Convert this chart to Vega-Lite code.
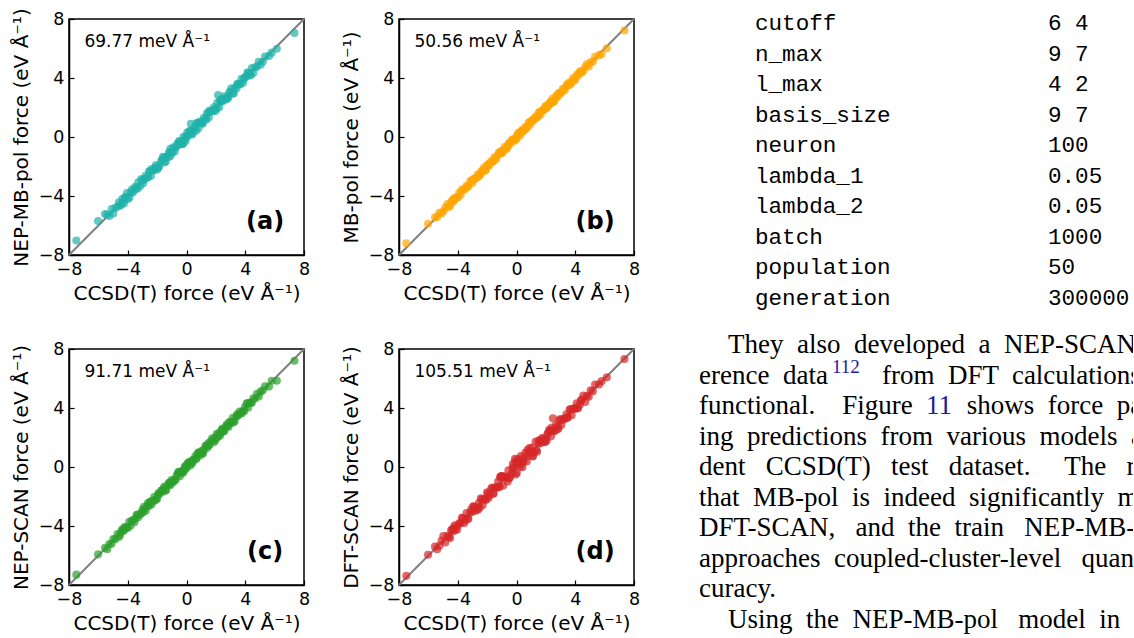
{
  "$schema": "https://vega.github.io/schema/vega-lite/v6.json",
  "padding": {"left": 10, "top": 7, "right": 0, "bottom": 0},
  "background": "white",
  "config": {
    "view": {"stroke": "black", "strokeWidth": 1.5},
    "axis": {
      "grid": false,
      "domainColor": "black",
      "domainWidth": 1.5,
      "tickColor": "black",
      "tickWidth": 1.2,
      "tickSize": -5,
      "labelPadding": 10,
      "labelFont": "DejaVu Sans",
      "labelFontSize": 17.5,
      "labelColor": "black",
      "labelFlush": false,
      "labelOverlap": false,
      "titleFont": "DejaVu Sans",
      "titleFontSize": 20,
      "titleFontWeight": "normal",
      "titleColor": "black"
    },
    "axisX": {"titlePadding": 6},
    "axisY": {"titlePadding": 7}
  },
  "datasets": {
    "forces": [
      {"ref": -7.50, "nep_mbpol": -7.02, "mbpol": -7.20, "nep_scan": -7.30, "dft_scan": -7.38},
      {"ref": -6.02, "nep_mbpol": -5.70, "mbpol": -5.88, "nep_scan": -5.92, "dft_scan": -5.95},
      {"ref": -5.55, "nep_mbpol": -5.22, "mbpol": -5.45, "nep_scan": -5.48, "dft_scan": -5.40},
      {"ref": -5.40, "nep_mbpol": -5.25, "mbpol": -5.42, "nep_scan": -5.58, "dft_scan": -5.58},
      {"ref": -5.25, "nep_mbpol": -5.35, "mbpol": -5.14, "nep_scan": -5.23, "dft_scan": -5.34},
      {"ref": -5.10, "nep_mbpol": -4.88, "mbpol": -5.19, "nep_scan": -5.20, "dft_scan": -4.98},
      {"ref": -4.98, "nep_mbpol": -5.18, "mbpol": -5.03, "nep_scan": -4.88, "dft_scan": -4.68},
      {"ref": -4.85, "nep_mbpol": -4.80, "mbpol": -4.79, "nep_scan": -4.89, "dft_scan": -5.12},
      {"ref": -4.70, "nep_mbpol": -4.73, "mbpol": -4.55, "nep_scan": -4.54, "dft_scan": -4.67},
      {"ref": -4.60, "nep_mbpol": -4.42, "mbpol": -4.74, "nep_scan": -4.74, "dft_scan": -4.75},
      {"ref": -4.52, "nep_mbpol": -4.64, "mbpol": -4.66, "nep_scan": -4.60, "dft_scan": -4.82},
      {"ref": -4.45, "nep_mbpol": -4.60, "mbpol": -4.43, "nep_scan": -4.39, "dft_scan": -4.30},
      {"ref": -4.38, "nep_mbpol": -4.20, "mbpol": -4.29, "nep_scan": -4.22, "dft_scan": -4.23},
      {"ref": -4.30, "nep_mbpol": -4.38, "mbpol": -4.38, "nep_scan": -4.30, "dft_scan": -4.36},
      {"ref": -4.26, "nep_mbpol": -4.50, "mbpol": -4.20, "nep_scan": -4.30, "dft_scan": -4.10},
      {"ref": -4.20, "nep_mbpol": -4.10, "mbpol": -4.12, "nep_scan": -4.08, "dft_scan": -3.96},
      {"ref": -4.15, "nep_mbpol": -4.07, "mbpol": -4.18, "nep_scan": -4.11, "dft_scan": -4.24},
      {"ref": -4.05, "nep_mbpol": -3.80, "mbpol": -4.08, "nep_scan": -4.13, "dft_scan": -4.26},
      {"ref": -3.98, "nep_mbpol": -4.20, "mbpol": -4.09, "nep_scan": -4.10, "dft_scan": -3.95},
      {"ref": -3.90, "nep_mbpol": -4.12, "mbpol": -3.78, "nep_scan": -3.72, "dft_scan": -3.81},
      {"ref": -3.80, "nep_mbpol": -3.77, "mbpol": -3.91, "nep_scan": -3.96, "dft_scan": -3.80},
      {"ref": -3.72, "nep_mbpol": -3.57, "mbpol": -3.58, "nep_scan": -3.64, "dft_scan": -3.45},
      {"ref": -3.65, "nep_mbpol": -3.77, "mbpol": -3.60, "nep_scan": -3.61, "dft_scan": -3.47},
      {"ref": -3.55, "nep_mbpol": -3.60, "mbpol": -3.55, "nep_scan": -3.75, "dft_scan": -3.79},
      {"ref": -3.50, "nep_mbpol": -3.38, "mbpol": -3.50, "nep_scan": -3.52, "dft_scan": -3.62},
      {"ref": -3.40, "nep_mbpol": -3.45, "mbpol": -3.31, "nep_scan": -3.26, "dft_scan": -3.13},
      {"ref": -3.33, "nep_mbpol": -3.51, "mbpol": -3.39, "nep_scan": -3.23, "dft_scan": -3.48},
      {"ref": -3.28, "nep_mbpol": -3.08, "mbpol": -3.34, "nep_scan": -3.40, "dft_scan": -3.52},
      {"ref": -3.15, "nep_mbpol": -3.33, "mbpol": -3.01, "nep_scan": -3.21, "dft_scan": -3.09},
      {"ref": -3.08, "nep_mbpol": -2.86, "mbpol": -2.96, "nep_scan": -3.14, "dft_scan": -2.87},
      {"ref": -3.00, "nep_mbpol": -2.92, "mbpol": -3.12, "nep_scan": -2.92, "dft_scan": -3.03},
      {"ref": -2.95, "nep_mbpol": -3.13, "mbpol": -2.87, "nep_scan": -3.07, "dft_scan": -2.67},
      {"ref": -2.90, "nep_mbpol": -2.90, "mbpol": -2.87, "nep_scan": -2.70, "dft_scan": -2.69},
      {"ref": -2.85, "nep_mbpol": -2.85, "mbpol": -2.82, "nep_scan": -2.83, "dft_scan": -2.76},
      {"ref": -2.78, "nep_mbpol": -2.63, "mbpol": -2.80, "nep_scan": -2.96, "dft_scan": -2.96},
      {"ref": -2.65, "nep_mbpol": -2.75, "mbpol": -2.54, "nep_scan": -2.63, "dft_scan": -2.74},
      {"ref": -2.62, "nep_mbpol": -2.72, "mbpol": -2.71, "nep_scan": -2.44, "dft_scan": -2.89},
      {"ref": -2.55, "nep_mbpol": -2.33, "mbpol": -2.64, "nep_scan": -2.65, "dft_scan": -2.43},
      {"ref": -2.50, "nep_mbpol": -2.36, "mbpol": -2.58, "nep_scan": -2.38, "dft_scan": -2.76},
      {"ref": -2.42, "nep_mbpol": -2.62, "mbpol": -2.47, "nep_scan": -2.32, "dft_scan": -2.12},
      {"ref": -2.38, "nep_mbpol": -2.18, "mbpol": -2.32, "nep_scan": -2.54, "dft_scan": -2.20},
      {"ref": -2.30, "nep_mbpol": -2.25, "mbpol": -2.24, "nep_scan": -2.34, "dft_scan": -2.57},
      {"ref": -2.20, "nep_mbpol": -2.23, "mbpol": -2.05, "nep_scan": -2.04, "dft_scan": -2.17},
      {"ref": -2.13, "nep_mbpol": -2.08, "mbpol": -2.28, "nep_scan": -2.23, "dft_scan": -2.19},
      {"ref": -2.08, "nep_mbpol": -1.90, "mbpol": -2.22, "nep_scan": -2.22, "dft_scan": -2.23},
      {"ref": -2.00, "nep_mbpol": -2.21, "mbpol": -1.93, "nep_scan": -2.15, "dft_scan": -1.72},
      {"ref": -1.95, "nep_mbpol": -2.10, "mbpol": -1.93, "nep_scan": -1.89, "dft_scan": -1.80},
      {"ref": -1.90, "nep_mbpol": -2.05, "mbpol": -1.82, "nep_scan": -1.76, "dft_scan": -2.11},
      {"ref": -1.85, "nep_mbpol": -1.93, "mbpol": -1.93, "nep_scan": -1.85, "dft_scan": -1.91},
      {"ref": -1.72, "nep_mbpol": -1.62, "mbpol": -1.64, "nep_scan": -1.60, "dft_scan": -1.48},
      {"ref": -1.66, "nep_mbpol": -1.56, "mbpol": -1.71, "nep_scan": -1.60, "dft_scan": -1.39},
      {"ref": -1.60, "nep_mbpol": -1.35, "mbpol": -1.63, "nep_scan": -1.68, "dft_scan": -1.81},
      {"ref": -1.55, "nep_mbpol": -1.40, "mbpol": -1.62, "nep_scan": -1.44, "dft_scan": -1.80},
      {"ref": -1.50, "nep_mbpol": -1.72, "mbpol": -1.38, "nep_scan": -1.32, "dft_scan": -1.41},
      {"ref": -1.42, "nep_mbpol": -1.67, "mbpol": -1.40, "nep_scan": -1.60, "dft_scan": -1.42},
      {"ref": -1.38, "nep_mbpol": -1.35, "mbpol": -1.49, "nep_scan": -1.54, "dft_scan": -1.38},
      {"ref": -1.25, "nep_mbpol": -1.37, "mbpol": -1.20, "nep_scan": -1.21, "dft_scan": -0.98},
      {"ref": -1.20, "nep_mbpol": -1.08, "mbpol": -1.06, "nep_scan": -1.08, "dft_scan": -1.38},
      {"ref": -1.15, "nep_mbpol": -1.03, "mbpol": -1.15, "nep_scan": -1.17, "dft_scan": -1.33},
      {"ref": -1.10, "nep_mbpol": -1.30, "mbpol": -1.02, "nep_scan": -1.24, "dft_scan": -0.72},
      {"ref": -1.10, "nep_mbpol": -0.80, "mbpol": -1.10, "nep_scan": -1.05, "dft_scan": -0.65},
      {"ref": -1.02, "nep_mbpol": -1.07, "mbpol": -0.93, "nep_scan": -0.88, "dft_scan": -0.61},
      {"ref": -0.97, "nep_mbpol": -1.05, "mbpol": -1.09, "nep_scan": -1.01, "dft_scan": -0.61},
      {"ref": -0.90, "nep_mbpol": -0.70, "mbpol": -0.96, "nep_scan": -1.02, "dft_scan": -1.26},
      {"ref": -0.80, "nep_mbpol": -0.98, "mbpol": -0.66, "nep_scan": -0.86, "dft_scan": -0.71},
      {"ref": -0.74, "nep_mbpol": -0.71, "mbpol": -0.82, "nep_scan": -0.88, "dft_scan": -0.65},
      {"ref": -0.68, "nep_mbpol": -0.60, "mbpol": -0.80, "nep_scan": -0.60, "dft_scan": -0.73},
      {"ref": -0.60, "nep_mbpol": -0.42, "mbpol": -0.67, "nep_scan": -0.47, "dft_scan": -0.98},
      {"ref": -0.55, "nep_mbpol": -0.55, "mbpol": -0.52, "nep_scan": -0.35, "dft_scan": -0.23},
      {"ref": -0.50, "nep_mbpol": -0.28, "mbpol": -0.39, "nep_scan": -0.32, "dft_scan": -0.77},
      {"ref": -0.45, "nep_mbpol": -0.30, "mbpol": -0.47, "nep_scan": -0.63, "dft_scan": -0.72},
      {"ref": -0.32, "nep_mbpol": -0.42, "mbpol": -0.21, "nep_scan": -0.30, "dft_scan": -0.46},
      {"ref": -0.28, "nep_mbpol": -0.48, "mbpol": -0.23, "nep_scan": -0.28, "dft_scan": -0.10},
      {"ref": -0.25, "nep_mbpol": -0.48, "mbpol": -0.18, "nep_scan": -0.40, "dft_scan": 0.20},
      {"ref": -0.20, "nep_mbpol": 0.02, "mbpol": -0.29, "nep_scan": -0.30, "dft_scan": -0.02},
      {"ref": -0.10, "nep_mbpol": -0.30, "mbpol": -0.15, "nep_scan": 0.00, "dft_scan": 0.35},
      {"ref": -0.10, "nep_mbpol": -0.05, "mbpol": -0.10, "nep_scan": 0.05, "dft_scan": 0.55},
      {"ref": -0.05, "nep_mbpol": -0.17, "mbpol": -0.19, "nep_scan": -0.13, "dft_scan": -0.50},
      {"ref": 0.02, "nep_mbpol": 0.07, "mbpol": 0.08, "nep_scan": -0.02, "dft_scan": -0.39},
      {"ref": 0.05, "nep_mbpol": 0.30, "mbpol": -0.03, "nep_scan": 0.20, "dft_scan": 0.52},
      {"ref": 0.12, "nep_mbpol": 0.09, "mbpol": 0.27, "nep_scan": 0.28, "dft_scan": 0.17},
      {"ref": 0.18, "nep_mbpol": 0.36, "mbpol": 0.27, "nep_scan": 0.34, "dft_scan": 0.41},
      {"ref": 0.25, "nep_mbpol": 0.43, "mbpol": 0.11, "nep_scan": 0.11, "dft_scan": 0.02},
      {"ref": 0.30, "nep_mbpol": 0.90, "mbpol": 0.35, "nep_scan": 0.25, "dft_scan": 0.75},
      {"ref": 0.35, "nep_mbpol": 0.20, "mbpol": 0.37, "nep_scan": 0.41, "dft_scan": 0.58},
      {"ref": 0.40, "nep_mbpol": 0.18, "mbpol": 0.48, "nep_scan": 0.26, "dft_scan": -0.02},
      {"ref": 0.42, "nep_mbpol": 0.50, "mbpol": 0.39, "nep_scan": 0.46, "dft_scan": 0.28},
      {"ref": 0.48, "nep_mbpol": 0.40, "mbpol": 0.40, "nep_scan": 0.48, "dft_scan": 0.39},
      {"ref": 0.60, "nep_mbpol": 0.70, "mbpol": 0.68, "nep_scan": 0.72, "dft_scan": 0.96},
      {"ref": 0.65, "nep_mbpol": 0.43, "mbpol": 0.54, "nep_scan": 0.53, "dft_scan": 0.70},
      {"ref": 0.70, "nep_mbpol": 0.95, "mbpol": 0.67, "nep_scan": 0.62, "dft_scan": 0.38},
      {"ref": 0.75, "nep_mbpol": 0.92, "mbpol": 0.68, "nep_scan": 0.89, "dft_scan": 1.15},
      {"ref": 0.82, "nep_mbpol": 0.60, "mbpol": 0.94, "nep_scan": 1.00, "dft_scan": 0.96},
      {"ref": 0.88, "nep_mbpol": 1.03, "mbpol": 1.02, "nep_scan": 0.96, "dft_scan": 1.29},
      {"ref": 0.95, "nep_mbpol": 0.98, "mbpol": 0.84, "nep_scan": 0.79, "dft_scan": 0.95},
      {"ref": 1.05, "nep_mbpol": 0.93, "mbpol": 1.10, "nep_scan": 1.09, "dft_scan": 1.32},
      {"ref": 1.10, "nep_mbpol": 0.90, "mbpol": 1.17, "nep_scan": 0.96, "dft_scan": 0.72},
      {"ref": 1.12, "nep_mbpol": 1.07, "mbpol": 1.12, "nep_scan": 0.92, "dft_scan": 0.76},
      {"ref": 1.18, "nep_mbpol": 1.30, "mbpol": 1.18, "nep_scan": 1.16, "dft_scan": 1.00},
      {"ref": 1.30, "nep_mbpol": 1.25, "mbpol": 1.39, "nep_scan": 1.44, "dft_scan": 1.71},
      {"ref": 1.35, "nep_mbpol": 1.17, "mbpol": 1.29, "nep_scan": 1.45, "dft_scan": 1.12},
      {"ref": 1.40, "nep_mbpol": 1.60, "mbpol": 1.34, "nep_scan": 1.28, "dft_scan": 1.04},
      {"ref": 1.50, "nep_mbpol": 1.68, "mbpol": 1.43, "nep_scan": 1.63, "dft_scan": 1.80},
      {"ref": 1.52, "nep_mbpol": 1.34, "mbpol": 1.66, "nep_scan": 1.46, "dft_scan": 1.58},
      {"ref": 1.58, "nep_mbpol": 1.80, "mbpol": 1.70, "nep_scan": 1.52, "dft_scan": 1.79},
      {"ref": 1.65, "nep_mbpol": 1.73, "mbpol": 1.53, "nep_scan": 1.73, "dft_scan": 1.62},
      {"ref": 1.75, "nep_mbpol": 1.75, "mbpol": 1.78, "nep_scan": 1.95, "dft_scan": 1.96},
      {"ref": 1.82, "nep_mbpol": 1.82, "mbpol": 1.85, "nep_scan": 1.84, "dft_scan": 1.91},
      {"ref": 1.88, "nep_mbpol": 2.03, "mbpol": 1.86, "nep_scan": 1.70, "dft_scan": 1.70},
      {"ref": 1.95, "nep_mbpol": 1.74, "mbpol": 2.03, "nep_scan": 1.82, "dft_scan": 1.70},
      {"ref": 2.00, "nep_mbpol": 1.90, "mbpol": 2.11, "nep_scan": 2.02, "dft_scan": 1.91},
      {"ref": 2.05, "nep_mbpol": 1.95, "mbpol": 1.96, "nep_scan": 2.23, "dft_scan": 1.78},
      {"ref": 2.10, "nep_mbpol": 2.32, "mbpol": 2.01, "nep_scan": 2.00, "dft_scan": 2.22},
      {"ref": 2.15, "nep_mbpol": 2.85, "mbpol": 2.20, "nep_scan": 2.10, "dft_scan": 2.30},
      {"ref": 2.22, "nep_mbpol": 2.02, "mbpol": 2.17, "nep_scan": 2.32, "dft_scan": 2.52},
      {"ref": 2.28, "nep_mbpol": 2.48, "mbpol": 2.34, "nep_scan": 2.12, "dft_scan": 2.46},
      {"ref": 2.35, "nep_mbpol": 2.40, "mbpol": 2.41, "nep_scan": 2.31, "dft_scan": 2.08},
      {"ref": 2.40, "nep_mbpol": 2.56, "mbpol": 2.33, "nep_scan": 2.52, "dft_scan": 2.68},
      {"ref": 2.45, "nep_mbpol": 2.42, "mbpol": 2.60, "nep_scan": 2.61, "dft_scan": 2.48},
      {"ref": 2.48, "nep_mbpol": 2.55, "mbpol": 2.45, "nep_scan": 2.50, "dft_scan": 3.30},
      {"ref": 2.52, "nep_mbpol": 2.57, "mbpol": 2.37, "nep_scan": 2.42, "dft_scan": 2.46},
      {"ref": 2.58, "nep_mbpol": 2.76, "mbpol": 2.44, "nep_scan": 2.44, "dft_scan": 2.43},
      {"ref": 2.70, "nep_mbpol": 2.55, "mbpol": 2.72, "nep_scan": 2.76, "dft_scan": 2.85},
      {"ref": 2.75, "nep_mbpol": 2.60, "mbpol": 2.83, "nep_scan": 2.89, "dft_scan": 2.54},
      {"ref": 2.80, "nep_mbpol": 2.72, "mbpol": 2.72, "nep_scan": 2.80, "dft_scan": 2.74},
      {"ref": 2.85, "nep_mbpol": 2.66, "mbpol": 2.93, "nep_scan": 2.72, "dft_scan": 2.60},
      {"ref": 2.92, "nep_mbpol": 3.02, "mbpol": 3.00, "nep_scan": 3.04, "dft_scan": 3.16},
      {"ref": 2.98, "nep_mbpol": 3.08, "mbpol": 2.93, "nep_scan": 3.04, "dft_scan": 3.25},
      {"ref": 3.05, "nep_mbpol": 3.30, "mbpol": 3.02, "nep_scan": 2.97, "dft_scan": 2.84},
      {"ref": 3.15, "nep_mbpol": 2.93, "mbpol": 3.27, "nep_scan": 3.33, "dft_scan": 3.24},
      {"ref": 3.22, "nep_mbpol": 2.97, "mbpol": 3.24, "nep_scan": 3.04, "dft_scan": 3.22},
      {"ref": 3.28, "nep_mbpol": 3.31, "mbpol": 3.17, "nep_scan": 3.12, "dft_scan": 3.28},
      {"ref": 3.40, "nep_mbpol": 3.28, "mbpol": 3.45, "nep_scan": 3.44, "dft_scan": 3.58},
      {"ref": 3.45, "nep_mbpol": 3.57, "mbpol": 3.59, "nep_scan": 3.57, "dft_scan": 3.33},
      {"ref": 3.50, "nep_mbpol": 3.62, "mbpol": 3.50, "nep_scan": 3.48, "dft_scan": 3.38},
      {"ref": 3.62, "nep_mbpol": 3.57, "mbpol": 3.71, "nep_scan": 3.76, "dft_scan": 3.89},
      {"ref": 3.68, "nep_mbpol": 3.60, "mbpol": 3.56, "nep_scan": 3.64, "dft_scan": 3.92},
      {"ref": 3.75, "nep_mbpol": 3.95, "mbpol": 3.69, "nep_scan": 3.63, "dft_scan": 3.51},
      {"ref": 3.85, "nep_mbpol": 3.67, "mbpol": 3.99, "nep_scan": 3.79, "dft_scan": 3.91},
      {"ref": 3.92, "nep_mbpol": 3.95, "mbpol": 3.84, "nep_scan": 3.78, "dft_scan": 3.98},
      {"ref": 3.98, "nep_mbpol": 4.06, "mbpol": 3.86, "nep_scan": 4.06, "dft_scan": 3.95},
      {"ref": 4.10, "nep_mbpol": 4.10, "mbpol": 4.13, "nep_scan": 4.30, "dft_scan": 4.31},
      {"ref": 4.15, "nep_mbpol": 4.37, "mbpol": 4.26, "nep_scan": 4.33, "dft_scan": 3.97},
      {"ref": 4.20, "nep_mbpol": 4.35, "mbpol": 4.18, "nep_scan": 4.02, "dft_scan": 4.02},
      {"ref": 4.32, "nep_mbpol": 4.22, "mbpol": 4.43, "nep_scan": 4.34, "dft_scan": 4.23},
      {"ref": 4.38, "nep_mbpol": 4.18, "mbpol": 4.43, "nep_scan": 4.38, "dft_scan": 4.50},
      {"ref": 4.45, "nep_mbpol": 4.67, "mbpol": 4.36, "nep_scan": 4.35, "dft_scan": 4.57},
      {"ref": 4.55, "nep_mbpol": 4.35, "mbpol": 4.50, "nep_scan": 4.65, "dft_scan": 4.85},
      {"ref": 4.68, "nep_mbpol": 4.73, "mbpol": 4.74, "nep_scan": 4.64, "dft_scan": 4.41},
      {"ref": 4.80, "nep_mbpol": 4.77, "mbpol": 4.95, "nep_scan": 4.96, "dft_scan": 4.83},
      {"ref": 4.92, "nep_mbpol": 5.10, "mbpol": 4.78, "nep_scan": 4.78, "dft_scan": 4.77},
      {"ref": 5.05, "nep_mbpol": 4.90, "mbpol": 5.07, "nep_scan": 5.11, "dft_scan": 5.20},
      {"ref": 5.20, "nep_mbpol": 5.12, "mbpol": 5.12, "nep_scan": 5.20, "dft_scan": 5.14},
      {"ref": 5.35, "nep_mbpol": 5.45, "mbpol": 5.43, "nep_scan": 5.47, "dft_scan": 5.59},
      {"ref": 5.62, "nep_mbpol": 5.50, "mbpol": 5.55, "nep_scan": 5.45, "dft_scan": 5.60},
      {"ref": 5.80, "nep_mbpol": 5.72, "mbpol": 5.62, "nep_scan": 5.85, "dft_scan": 5.82},
      {"ref": 6.15, "nep_mbpol": 5.98, "mbpol": 6.02, "nep_scan": 5.85, "dft_scan": 6.08},
      {"ref": 7.35, "nep_mbpol": 7.05, "mbpol": 7.22, "nep_scan": 7.20, "dft_scan": 7.32}
    ],
    "params": [
      {"row": 1, "name": "cutoff", "setting": "6 4"},
      {"row": 2, "name": "n_max", "setting": "9 7"},
      {"row": 3, "name": "l_max", "setting": "4 2"},
      {"row": 4, "name": "basis_size", "setting": "9 7"},
      {"row": 5, "name": "neuron", "setting": "100"},
      {"row": 6, "name": "lambda_1", "setting": "0.05"},
      {"row": 7, "name": "lambda_2", "setting": "0.05"},
      {"row": 8, "name": "batch", "setting": "1000"},
      {"row": 9, "name": "population", "setting": "50"},
      {"row": 10, "name": "generation", "setting": "300000"}
    ],
    "paragraph": [
      {"line": 1, "para": "start", "text": "They \u00a0also \u00a0developed \u00a0a \u00a0NEP-SCAN \u00a0model \u00a0using \u00a0ref-"},
      {"line": 2, "para": "cont", "text": "erence \u00a0data\u00a0\u00a0\u00a0\u00a0\u00a0\u00a0 \u00a0from \u00a0DFT \u00a0calculations \u00a0with \u00a0the \u00a0SCAN"},
      {"line": 3, "para": "cont", "text": "functional. \u00a0\u00a0\u00a0Figure \u00a0\u00a0\u00a0\u00a0\u00a0 \u00a0shows \u00a0force \u00a0parity \u00a0plots \u00a0compar-"},
      {"line": 4, "para": "cont", "text": "ing \u00a0predictions \u00a0from \u00a0various \u00a0models \u00a0against \u00a0an \u00a0indepen-"},
      {"line": 5, "para": "cont", "text": "dent \u00a0\u00a0CCSD(T) \u00a0\u00a0test \u00a0\u00a0dataset. \u00a0\u00a0\u00a0\u00a0The \u00a0\u00a0results \u00a0\u00a0demonstrate"},
      {"line": 6, "para": "cont", "text": "that \u00a0MB-pol \u00a0is \u00a0indeed \u00a0significantly \u00a0more \u00a0accurate \u00a0than"},
      {"line": 7, "para": "cont", "text": "DFT-SCAN, \u00a0\u00a0and \u00a0the \u00a0train \u00a0\u00a0NEP-MB-pol \u00a0model \u00a0closely"},
      {"line": 8, "para": "cont", "text": "approaches \u00a0coupled-cluster-level \u00a0\u00a0quantum \u00a0chemistry \u00a0ac-"},
      {"line": 9, "para": "cont", "text": "curacy."},
      {"line": 10, "para": "start", "text": "Using \u00a0the \u00a0NEP-MB-pol \u00a0\u00a0model \u00a0in \u00a0molecular \u00a0dynamics"}
    ],
    "refs": [
      {"line": 2, "para": "cont", "label": "112", "kind": "citation"},
      {"line": 3, "para": "cont", "label": "11", "kind": "figure"}
    ]
  },
  "hconcat": [
    {
      "columns": 2,
      "bounds": "flush",
      "spacing": {"row": 94, "column": 95},
      "concat": [
        {
          "width": 235,
          "height": 236,
          "layer": [
            {
              "data": {"values": [{}]},
              "mark": {"type": "rule", "color": "#7f7f7f", "strokeWidth": 2},
              "encoding": {
                "x": {"datum": -8, "type": "quantitative"},
                "y": {"datum": -8, "type": "quantitative"},
                "x2": {"datum": 8},
                "y2": {"datum": 8}
              }
            },
            {
              "data": {"name": "forces"},
              "mark": {"type": "circle", "size": 66, "opacity": 0.7, "color": "#20b2aa"},
              "encoding": {
                "x": {"field": "ref", "type": "quantitative", "scale": {"domain": [-8, 8], "nice": false, "zero": false},
                      "axis": {"values": [-8, -4, 0, 4, 8], "title": "CCSD(T) force (eV Å⁻¹)"}},
                "y": {"field": "nep_mbpol", "type": "quantitative", "scale": {"domain": [-8, 8], "nice": false, "zero": false},
                      "axis": {"values": [-8, -4, 0, 4, 8], "title": "NEP-MB-pol force (eV Å⁻¹)"}}
              }
            },
            {
              "data": {"values": [{"rmse": "69.77 meV Å⁻¹", "tag": "(a)"}]},
              "mark": {"type": "text", "align": "left", "baseline": "middle", "fontSize": 17, "font": "DejaVu Sans", "color": "black"},
              "encoding": {"x": {"datum": -6.95}, "y": {"datum": 6.45}, "text": {"field": "rmse"}}
            },
            {
              "data": {"values": [{"rmse": "69.77 meV Å⁻¹", "tag": "(a)"}]},
              "mark": {"type": "text", "align": "center", "baseline": "middle", "fontSize": 24, "fontWeight": "bold", "font": "DejaVu Sans", "color": "black"},
              "encoding": {"x": {"datum": 5.35}, "y": {"datum": -5.75}, "text": {"field": "tag"}}
            }
          ]
        },
        {
          "width": 235,
          "height": 236,
          "layer": [
            {
              "data": {"values": [{}]},
              "mark": {"type": "rule", "color": "#7f7f7f", "strokeWidth": 2},
              "encoding": {
                "x": {"datum": -8, "type": "quantitative"},
                "y": {"datum": -8, "type": "quantitative"},
                "x2": {"datum": 8},
                "y2": {"datum": 8}
              }
            },
            {
              "data": {"name": "forces"},
              "mark": {"type": "circle", "size": 66, "opacity": 0.7, "color": "#ffa500"},
              "encoding": {
                "x": {"field": "ref", "type": "quantitative", "scale": {"domain": [-8, 8], "nice": false, "zero": false},
                      "axis": {"values": [-8, -4, 0, 4, 8], "title": "CCSD(T) force (eV Å⁻¹)"}},
                "y": {"field": "mbpol", "type": "quantitative", "scale": {"domain": [-8, 8], "nice": false, "zero": false},
                      "axis": {"values": [-8, -4, 0, 4, 8], "title": "MB-pol force (eV Å⁻¹)"}}
              }
            },
            {
              "data": {"values": [{"rmse": "50.56 meV Å⁻¹", "tag": "(b)"}]},
              "mark": {"type": "text", "align": "left", "baseline": "middle", "fontSize": 17, "font": "DejaVu Sans", "color": "black"},
              "encoding": {"x": {"datum": -6.95}, "y": {"datum": 6.45}, "text": {"field": "rmse"}}
            },
            {
              "data": {"values": [{"rmse": "50.56 meV Å⁻¹", "tag": "(b)"}]},
              "mark": {"type": "text", "align": "center", "baseline": "middle", "fontSize": 24, "fontWeight": "bold", "font": "DejaVu Sans", "color": "black"},
              "encoding": {"x": {"datum": 5.35}, "y": {"datum": -5.75}, "text": {"field": "tag"}}
            }
          ]
        },
        {
          "width": 235,
          "height": 236,
          "layer": [
            {
              "data": {"values": [{}]},
              "mark": {"type": "rule", "color": "#7f7f7f", "strokeWidth": 2},
              "encoding": {
                "x": {"datum": -8, "type": "quantitative"},
                "y": {"datum": -8, "type": "quantitative"},
                "x2": {"datum": 8},
                "y2": {"datum": 8}
              }
            },
            {
              "data": {"name": "forces"},
              "mark": {"type": "circle", "size": 66, "opacity": 0.7, "color": "#2ca02c"},
              "encoding": {
                "x": {"field": "ref", "type": "quantitative", "scale": {"domain": [-8, 8], "nice": false, "zero": false},
                      "axis": {"values": [-8, -4, 0, 4, 8], "title": "CCSD(T) force (eV Å⁻¹)"}},
                "y": {"field": "nep_scan", "type": "quantitative", "scale": {"domain": [-8, 8], "nice": false, "zero": false},
                      "axis": {"values": [-8, -4, 0, 4, 8], "title": "NEP-SCAN force (eV Å⁻¹)"}}
              }
            },
            {
              "data": {"values": [{"rmse": "91.71 meV Å⁻¹", "tag": "(c)"}]},
              "mark": {"type": "text", "align": "left", "baseline": "middle", "fontSize": 17, "font": "DejaVu Sans", "color": "black"},
              "encoding": {"x": {"datum": -6.95}, "y": {"datum": 6.45}, "text": {"field": "rmse"}}
            },
            {
              "data": {"values": [{"rmse": "91.71 meV Å⁻¹", "tag": "(c)"}]},
              "mark": {"type": "text", "align": "center", "baseline": "middle", "fontSize": 24, "fontWeight": "bold", "font": "DejaVu Sans", "color": "black"},
              "encoding": {"x": {"datum": 5.35}, "y": {"datum": -5.75}, "text": {"field": "tag"}}
            }
          ]
        },
        {
          "width": 235,
          "height": 236,
          "layer": [
            {
              "data": {"values": [{}]},
              "mark": {"type": "rule", "color": "#7f7f7f", "strokeWidth": 2},
              "encoding": {
                "x": {"datum": -8, "type": "quantitative"},
                "y": {"datum": -8, "type": "quantitative"},
                "x2": {"datum": 8},
                "y2": {"datum": 8}
              }
            },
            {
              "data": {"name": "forces"},
              "mark": {"type": "circle", "size": 66, "opacity": 0.7, "color": "#d62728"},
              "encoding": {
                "x": {"field": "ref", "type": "quantitative", "scale": {"domain": [-8, 8], "nice": false, "zero": false},
                      "axis": {"values": [-8, -4, 0, 4, 8], "title": "CCSD(T) force (eV Å⁻¹)"}},
                "y": {"field": "dft_scan", "type": "quantitative", "scale": {"domain": [-8, 8], "nice": false, "zero": false},
                      "axis": {"values": [-8, -4, 0, 4, 8], "title": "DFT-SCAN force (eV Å⁻¹)"}}
              }
            },
            {
              "data": {"values": [{"rmse": "105.51 meV Å⁻¹", "tag": "(d)"}]},
              "mark": {"type": "text", "align": "left", "baseline": "middle", "fontSize": 17, "font": "DejaVu Sans", "color": "black"},
              "encoding": {"x": {"datum": -6.95}, "y": {"datum": 6.45}, "text": {"field": "rmse"}}
            },
            {
              "data": {"values": [{"rmse": "105.51 meV Å⁻¹", "tag": "(d)"}]},
              "mark": {"type": "text", "align": "center", "baseline": "middle", "fontSize": 24, "fontWeight": "bold", "font": "DejaVu Sans", "color": "black"},
              "encoding": {"x": {"datum": 5.35}, "y": {"datum": -5.75}, "text": {"field": "tag"}}
            }
          ]
        }
      ]
    },
    {
      "width": 434,
      "height": 617,
      "view": {"stroke": null},
      "layer": [
        {
          "data": {"name": "params"},
          "transform": [{"fold": ["name", "setting"], "as": ["column", "entry"]}],
          "mark": {"type": "text", "font": "Liberation Mono", "fontSize": 22.6, "align": "left", "baseline": "alphabetic", "color": "black"},
          "encoding": {
            "x": {"field": "column", "type": "nominal", "scale": {"type": "point", "domain": ["name", "setting"], "range": [56, 349], "padding": 0}, "axis": null},
            "y": {"field": "row", "type": "quantitative", "scale": {"domain": [1, 10], "range": [11, 286]}, "axis": null},
            "text": {"field": "entry"}
          }
        },
        {
          "data": {"name": "paragraph"},
          "mark": {"type": "text", "font": "Liberation Serif", "fontSize": 27, "align": "left", "baseline": "alphabetic", "color": "black", "clip": true},
          "encoding": {
            "x": {"field": "para", "type": "nominal", "scale": {"type": "point", "domain": ["cont", "start"], "range": [0, 29], "padding": 0}, "axis": null},
            "y": {"field": "line", "type": "quantitative", "scale": {"domain": [1, 10], "range": [334, 609]}, "axis": null},
            "text": {"field": "text"}
          }
        },
        {
          "data": {"name": "refs"},
          "transform": [{"filter": "datum.kind === 'citation'"}],
          "mark": {"type": "text", "font": "Liberation Serif", "fontSize": 19, "align": "left", "baseline": "alphabetic", "color": "#1c1c9e", "dx": 133, "dy": -11},
          "encoding": {
            "x": {"field": "para", "type": "nominal", "scale": {"type": "point", "domain": ["cont", "start"], "range": [0, 29], "padding": 0}, "axis": null},
            "y": {"field": "line", "type": "quantitative", "scale": {"domain": [1, 10], "range": [334, 609]}, "axis": null},
            "text": {"field": "label"}
          }
        },
        {
          "data": {"name": "refs"},
          "transform": [{"filter": "datum.kind === 'figure'"}],
          "mark": {"type": "text", "font": "Liberation Serif", "fontSize": 27, "align": "left", "baseline": "alphabetic", "color": "#1c1c9e", "dx": 227},
          "encoding": {
            "x": {"field": "para", "type": "nominal", "scale": {"type": "point", "domain": ["cont", "start"], "range": [0, 29], "padding": 0}, "axis": null},
            "y": {"field": "line", "type": "quantitative", "scale": {"domain": [1, 10], "range": [334, 609]}, "axis": null},
            "text": {"field": "label"}
          }
        }
      ],
      "resolve": {"scale": {"x": "independent", "y": "independent"}}
    }
  ],
  "spacing": 58
}
